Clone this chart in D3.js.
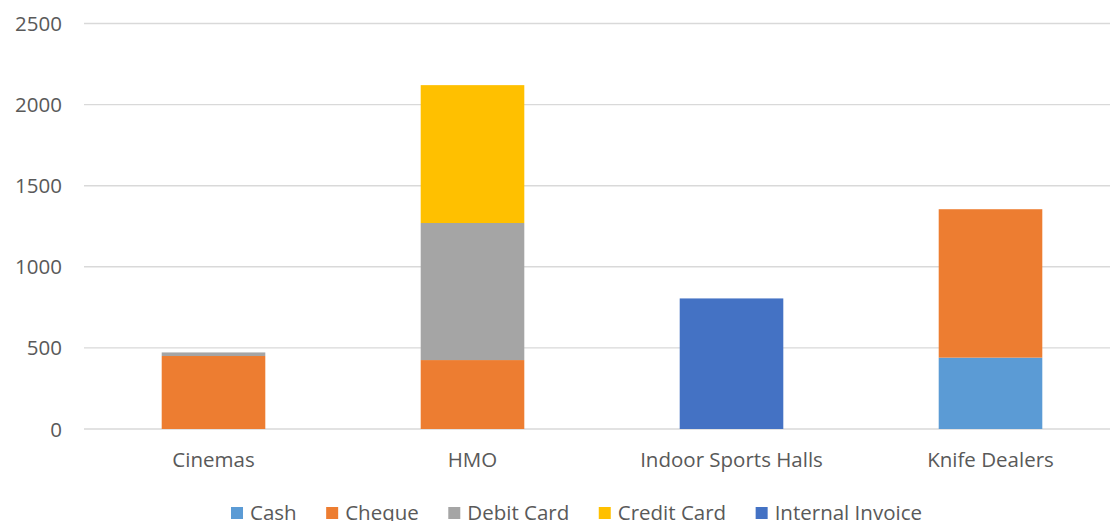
<!DOCTYPE html>
<html>
<head>
<meta charset="utf-8">
<script src="https://cdn.jsdelivr.net/npm/d3@7"></script>
<style>
  html, body { margin: 0; padding: 0; background: #fff; }
  svg { display: block; }
  text { font-family: "Open Sans", sans-serif; fill: #595959; }
</style>
</head>
<body>
<svg id="chart" width="1110" height="521"></svg>
<script>
const categories = ["Cinemas", "HMO", "Indoor Sports Halls", "Knife Dealers"];
const seriesNames = ["Cash", "Cheque", "Debit Card", "Credit Card", "Internal Invoice"];
const cash     = [0,   0,   0,   440];
const cheque   = [450, 425, 0,   915];
const debit    = [22,  845, 0,   0];
const credit   = [0,   850, 0,   0];
const internal = [0,   0,   805, 0];
const yTicks = [0, 500, 1000, 1500, 2000, 2500];
const colors = ["#5B9BD5", "#ED7D31", "#A5A5A5", "#FFC000", "#4472C4"];

const seriesValues = [cash, cheque, debit, credit, internal];
const rows = categories.map((c, i) => {
  const r = { category: c };
  seriesNames.forEach((s, k) => r[s] = seriesValues[k][i]);
  return r;
});

const svg = d3.select("#chart");
const plotLeft = 84, plotRight = 1120, plotTop = 23.5, plotBottom = 429;
const fs = 20.5;

const x = d3.scaleBand().domain(categories).range([plotLeft, plotRight]).paddingInner(0.6).paddingOuter(0.3);
const y = d3.scaleLinear().domain([0, 2500]).range([plotBottom, plotTop]);

// gridlines
svg.append("g").selectAll("line").data(yTicks).join("line")
  .attr("x1", plotLeft).attr("x2", 1110)
  .attr("y1", d => y(d)).attr("y2", d => y(d))
  .attr("stroke", "#d9d9d9").attr("stroke-width", 1.4);

// y labels
svg.append("g").selectAll("text").data(yTicks).join("text")
  .attr("x", 62).attr("y", d => y(d) + 7.5)
  .attr("text-anchor", "end").attr("font-size", fs)
  .text(d => d);

// stacked bars
const stack = d3.stack().keys(seriesNames);
const stacked = stack(rows);
svg.append("g").selectAll("g").data(stacked).join("g")
  .attr("fill", (d, i) => colors[i])
  .selectAll("rect").data(d => d).join("rect")
  .attr("x", d => x(d.data.category))
  .attr("width", x.bandwidth())
  .attr("y", d => y(d[1]))
  .attr("height", d => y(d[0]) - y(d[1]));

// x labels
svg.append("g").selectAll("text").data(categories).join("text")
  .attr("x", d => x(d) + x.bandwidth() / 2).attr("y", 467)
  .attr("text-anchor", "middle").attr("font-size", fs)
  .text(d => d);

// legend
const lg = svg.append("g");
const items = lg.selectAll("g").data(seriesNames).join("g");
items.append("rect").attr("width", 12).attr("height", 12).attr("y", 507)
  .attr("fill", (d, i) => colors[i]);
items.append("text").attr("x", 19).attr("y", 519.5).attr("font-size", fs).text(d => d);
const widths = [];
items.each(function () { widths.push(19 + d3.select(this).select("text").node().getComputedTextLength()); });
const gap = 29.5;
const total = d3.sum(widths) + gap * (widths.length - 1);
let startX = 576.5 - total / 2;
items.attr("transform", (d, i) => {
  const t = `translate(${startX},0)`;
  startX += widths[i] + gap;
  return t;
});
</script>
</body>
</html>
